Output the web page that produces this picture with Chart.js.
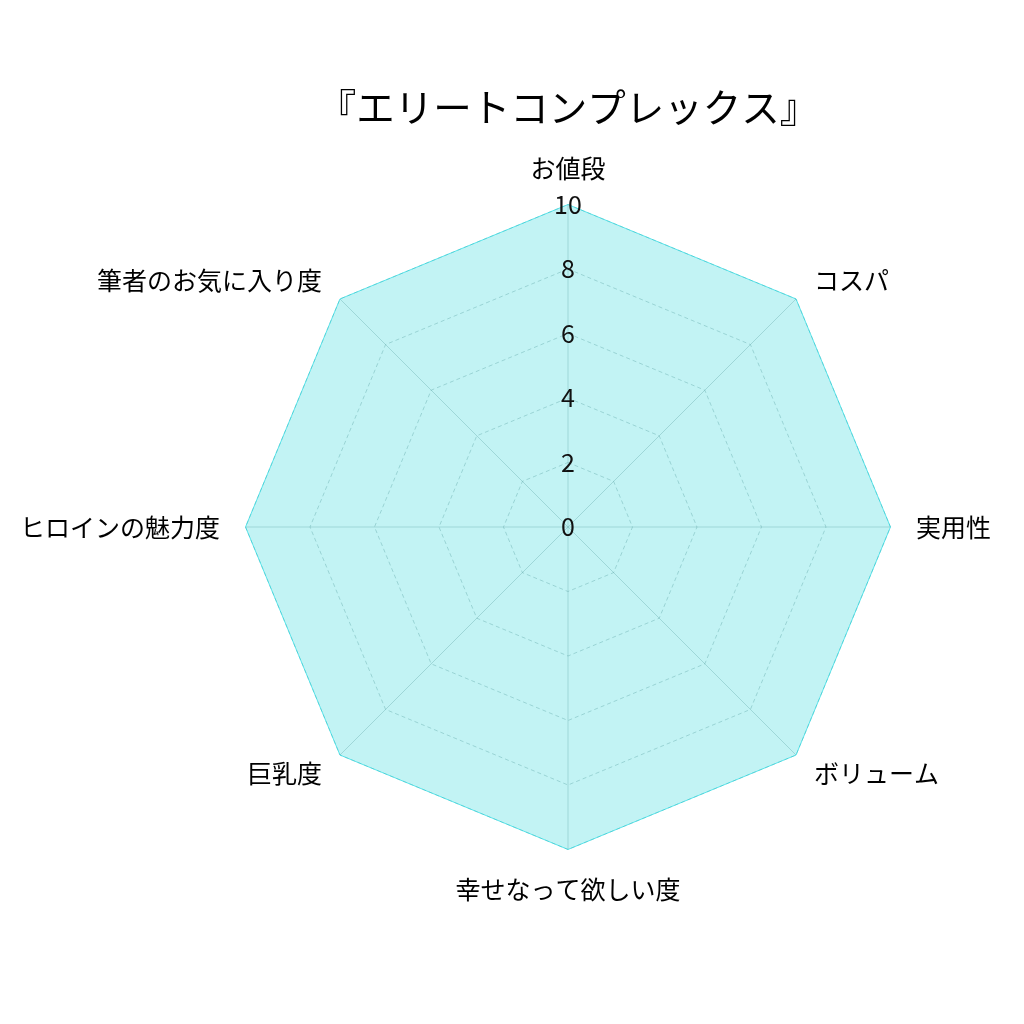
<!DOCTYPE html>
<html>
<head>
<meta charset="utf-8">
<script src="https://cdn.jsdelivr.net/npm/chart.js@4"></script>
<style>
  html, body { margin: 0; padding: 0; background: #fff; overflow: hidden; }
  #wrap { position: relative; width: 1024px; height: 1024px; overflow: hidden; }
  /* canvas a bit wider than the page so the radar can be as large as the reference */
  #myChart { position: absolute; left: -36px; top: 0; }
</style>
</head>
<body>
<div id="wrap"><canvas id="myChart" width="1097" height="1024"></canvas></div>
<script>
const title = "『エリートコンプレックス』";
const categories = ["お値段", "コスパ", "実用性", "ボリューム", "幸せなって欲しい度", "巨乳度", "ヒロインの魅力度", "筆者のお気に入り度"];
const scores = [10, 10, 10, 10, 10, 10, 10, 10];
const tickValues = [0, 2, 4, 6, 8, 10];

const FONT = "'Noto Sans CJK JP', 'Noto Sans', sans-serif";

// title centred over the radar itself, not over the canvas
const centredTitle = {
  id: "centredTitle",
  afterDraw(chart) {
    const r = chart.scales.r;
    const c = chart.ctx;
    c.save();
    c.font = "38.5px " + FONT;
    c.fillStyle = "#000";
    c.textAlign = "center";
    c.textBaseline = "middle";
    c.fillText(title, r.xCenter, 107);
    c.restore();
  }
};

// pull the diagonal labels a little towards their corner (vertical only)
function nudgeLabels(scale) {
  const items = scale._pointLabelItems;
  if (!items) return;
  items.forEach((item, i) => {
    let dy = 0;
    if (i === 0) dy = 4;
    else if (i === 1 || i === 7) dy = 15;
    else if (i === 3 || i === 5) dy = -15;
    item.y += dy;
    item.top += dy;
    item.bottom += dy;
  });
}

const ctx = document.getElementById("myChart");
new Chart(ctx, {
  type: "radar",
  data: {
    labels: categories,
    datasets: [{
      label: title,
      data: scores,
      fill: true,
      backgroundColor: "rgba(0, 206, 209, 0.24)",
      borderColor: "rgba(0, 215, 225, 0.6)",
      borderWidth: 1,
      pointRadius: 0,
      pointHoverRadius: 0
    }]
  },
  plugins: [centredTitle],
  options: {
    responsive: false,
    animation: false,
    layout: { padding: { top: 77, bottom: 47, left: 0, right: 0 } },
    plugins: {
      legend: { display: false },
      tooltip: { enabled: false },
      title: { display: false }
    },
    scales: {
      r: {
        // slightly below zero so the "0" label at the centre is drawn
        min: -0.0001,
        max: 10,
        afterBuildTicks: axis => { axis.ticks = tickValues.map(v => ({ value: v })); },
        afterFit: nudgeLabels,
        angleLines: { display: true, color: "rgba(120, 150, 150, 0.35)", lineWidth: 1 },
        grid: { color: "rgba(120, 150, 150, 0.4)", lineWidth: 1 },
        border: { dash: [4, 3] },
        ticks: {
          showLabelBackdrop: false,
          color: "#111",
          font: { family: FONT, size: 25 },
          z: 1
        },
        pointLabels: {
          color: "#000",
          font: { family: FONT, size: 25 },
          padding: 11
        }
      }
    }
  }
});
</script>
</body>
</html>
